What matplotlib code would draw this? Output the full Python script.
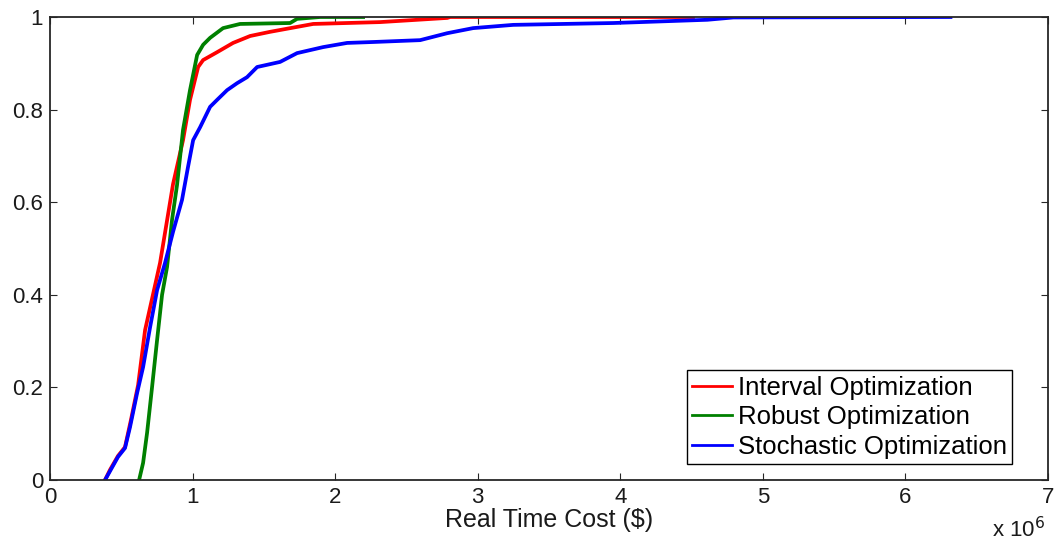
import matplotlib
matplotlib.use("Agg")
import matplotlib.pyplot as plt

# Empirical CDFs of real time cost (x in units of 1e6 $)
interval_x = [0.386, 0.421, 0.477, 0.526, 0.568, 0.618, 0.667, 0.772, 0.863, 0.933,
              0.982, 1.039, 1.074, 1.172, 1.284, 1.404, 1.544, 1.846, 2.316, 2.786,
              2.807, 4.51]
interval_y = [0.0, 0.022, 0.052, 0.071, 0.130, 0.205, 0.324, 0.469, 0.639, 0.734,
              0.821, 0.892, 0.907, 0.924, 0.944, 0.959, 0.968, 0.985, 0.989, 0.998,
              1.0, 1.0]

robust_x = [0.625, 0.653, 0.681, 0.716, 0.751, 0.786, 0.821, 0.856, 0.891, 0.933,
            0.982, 1.032, 1.074, 1.123, 1.214, 1.333, 1.684, 1.733, 1.895, 2.196]
robust_y = [0.0, 0.037, 0.102, 0.201, 0.302, 0.400, 0.460, 0.562, 0.637, 0.756,
            0.842, 0.918, 0.940, 0.955, 0.976, 0.985, 0.987, 0.996, 1.0, 1.0]

stochastic_x = [0.386, 0.477, 0.526, 0.561, 0.611, 0.653, 0.702, 0.751, 0.807, 0.863,
                0.926, 0.968, 1.004, 1.053, 1.123, 1.172, 1.242, 1.312, 1.382, 1.453,
                1.614, 1.733, 1.916, 2.084, 2.267, 2.596, 2.786, 2.968, 3.249, 3.951,
                4.330, 4.611, 4.793, 6.316]
stochastic_y = [0.0, 0.050, 0.069, 0.114, 0.188, 0.244, 0.330, 0.410, 0.469, 0.536,
                0.605, 0.676, 0.734, 0.762, 0.806, 0.821, 0.842, 0.857, 0.870, 0.892,
                0.903, 0.922, 0.935, 0.944, 0.946, 0.950, 0.965, 0.976, 0.983, 0.987,
                0.991, 0.994, 0.999, 1.0]

labels = ["Interval Optimization", "Robust Optimization", "Stochastic Optimization"]
x_ticks = [0, 1, 2, 3, 4, 5, 6, 7]
y_ticks = [0, 0.2, 0.4, 0.6, 0.8, 1]
y_ticklabels = ["0", "0.2", "0.4", "0.6", "0.8", "1"]

plt.rcParams['font.family'] = ['Liberation Sans', 'DejaVu Sans']

fig = plt.figure(figsize=(10.58, 5.5), dpi=100)
ax = fig.add_axes([50/1058, 70/550, 998/1058, 463/550])

ax.plot(interval_x, interval_y, color='#ff0000', lw=2.7, label=labels[0])
ax.plot(robust_x, robust_y, color='#008000', lw=2.7, label=labels[1])
ax.plot(stochastic_x, stochastic_y, color='#0000ff', lw=2.7, label=labels[2])

ax.set_xlim(0, 7)
ax.set_ylim(0, 1)
ax.set_xticks(x_ticks)
ax.set_xticklabels([str(t) for t in x_ticks])
ax.set_yticks(y_ticks)
ax.set_yticklabels(y_ticklabels)
ax.tick_params(direction='in', length=5, width=0.8, color='#262626',
               top=True, right=True, labelsize=16, pad=5, labelcolor='#1a1a1a')
for s in ax.spines.values():
    s.set_linewidth(1.3)
    s.set_color('#262626')

ax.set_xlabel("Real Time Cost ($)", fontsize=18, labelpad=0, color='#1a1a1a')
fig.text(1045/1058, 1 - 530/550, r"x 10$^6$", fontsize=16, ha='right', va='center',
         color='#1a1a1a')

leg = ax.legend(loc='lower right', bbox_to_anchor=((1012-50)/998, 16/463),
                borderaxespad=0, fontsize=18.5, handlelength=1.55, handletextpad=0.22,
                borderpad=0.2, labelspacing=0.22, fancybox=False, framealpha=1,
                edgecolor='black')
leg.get_frame().set_linewidth(1.0)
for l in leg.get_lines():
    l.set_linewidth(2.0)

fig.savefig("out.png", dpi=100)
